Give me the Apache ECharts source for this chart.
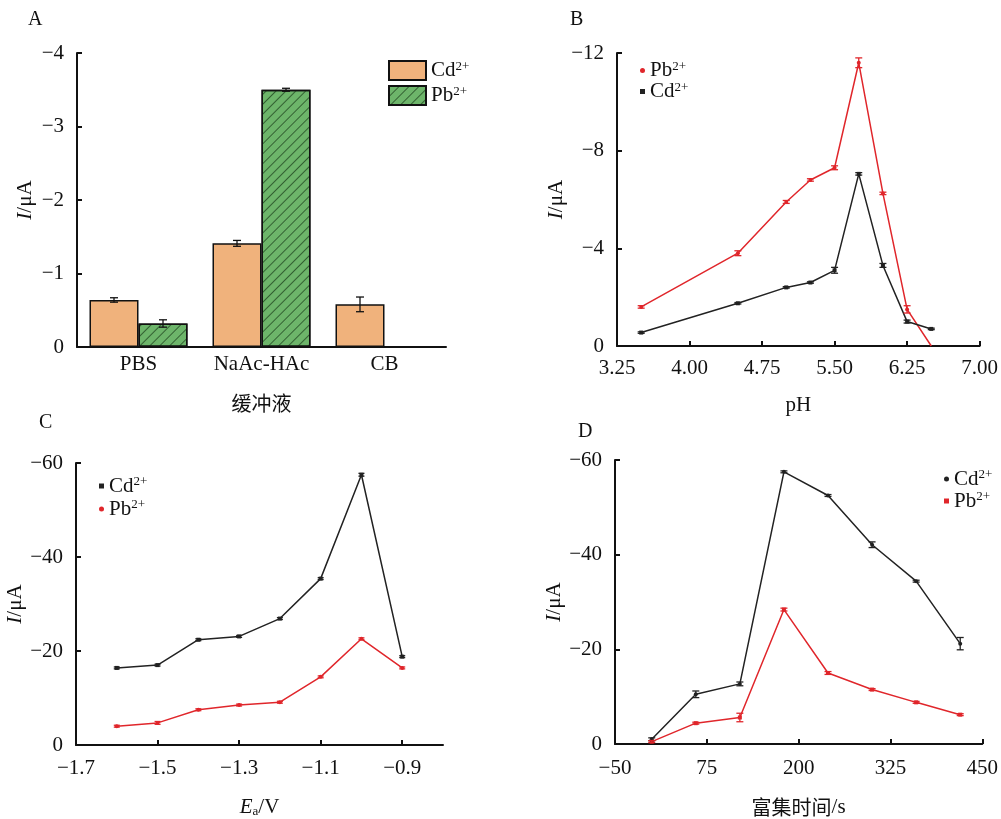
<!DOCTYPE html>
<html>
<head>
<meta charset="utf-8">
<script src="https://cdn.jsdelivr.net/npm/echarts@6/dist/echarts.min.js"></script>
<style>html,body{margin:0;padding:0;background:#fff}#c{width:1001px;height:819px}</style>
</head>
<body>
<div id="c"></div>
<script>
// ---------- Data ----------
// Panel A: buffer type
const bufferCats = ['PBS', 'NaAc-HAc', 'CB'];
const bufferCd = [-0.64, -1.41, -0.58];
const bufferCdErr = [0.03, 0.04, 0.10];
const bufferPb = [-0.32, -3.50, null];
const bufferPbErr = [0.05, 0.02, null];
const bufferTicks = [-4, -3, -2, -1, 0];

// Panel B: pH
const phValues = [3.5, 4.5, 5.0, 5.25, 5.5, 5.75, 6.0, 6.25, 6.5];
const phPb = [-1.6, -3.8, -5.9, -6.8, -7.3, -11.6, -6.25, -1.5, 0];
const phPbErr = [0.05, 0.1, 0.06, 0.05, 0.08, 0.2, 0.05, 0.15, 0];
const phCd = [-0.55, -1.75, -2.4, -2.6, -3.1, -7.05, -3.3, -1.0, -0.7];
const phCdErr = [0.03, 0.03, 0.03, 0.03, 0.12, 0.05, 0.08, 0.06, 0.03];
const phTicks = [3.25, 4.00, 4.75, 5.50, 6.25, 7.00];

// Panel C: deposition potential
const potentials = [-1.6, -1.5, -1.4, -1.3, -1.2, -1.1, -1.0, -0.9];
const potCd = [-16.4, -17.0, -22.4, -23.1, -26.9, -35.4, -57.5, -18.8];
const potCdErr = [0.2, 0.2, 0.2, 0.2, 0.2, 0.2, 0.3, 0.2];
const potPb = [-4.0, -4.7, -7.5, -8.5, -9.1, -14.5, -22.6, -16.4];
const potPbErr = [0.2, 0.3, 0.2, 0.2, 0.2, 0.2, 0.2, 0.2];

// Panel D: deposition time
const times = [0, 60, 120, 180, 240, 300, 360, 420];
const timeCd = [-1.0, -10.5, -12.7, -57.5, -52.5, -42.1, -34.4, -21.2];
const timeCdErr = [0.3, 0.7, 0.4, 0.2, 0.2, 0.6, 0.2, 1.3];
const timePb = [-0.5, -4.4, -5.6, -28.4, -15.0, -11.5, -8.8, -6.2];
const timePbErr = [0.2, 0.2, 0.9, 0.3, 0.3, 0.2, 0.2, 0.2];

// ---------- Styles ----------
const SERIF = '"Liberation Serif", "Times New Roman", serif';
const CJK = '"Noto Sans CJK SC", sans-serif';
const RED = '#E0262B';
const BLACK = '#222222';
const ORANGE = '#F0B27C';
const GREEN = '#6DB56A';
const FS = 21;

const negFmt = v => (v === 0 ? '0' : '\u2212' + Math.abs(v));
const richText = {
  a: { fontFamily: SERIF, fontSize: 21, color: '#111' },
  s: { fontFamily: SERIF, fontSize: 13, color: '#111', verticalAlign: 'top' }
};
const legendFmt = name => '{a|' + name.split('_')[0] + '}{s|2+}';
const yName = '{i|I}{n|/\u03bcA}';
const yNameRich = {
  i: { fontFamily: SERIF, fontSize: FS, fontStyle: 'italic', color: '#111' },
  n: { fontFamily: SERIF, fontSize: FS, color: '#111' }
};

function valueAxisY(grid, min, max, interval, gap) {
  return {
    type: 'value', gridIndex: grid, min: min, max: max, interval: interval, inverse: true,
    name: yName, nameLocation: 'middle', nameGap: gap,
    nameTextStyle: { rich: yNameRich },
    axisLine: { show: true, onZero: false, lineStyle: { color: '#111', width: 2 } },
    axisTick: { show: true, inside: true, length: 5, lineStyle: { color: '#111', width: 2 } },
    axisLabel: { formatter: negFmt, fontFamily: SERIF, fontSize: FS, color: '#111', margin: 13 },
    splitLine: { show: false }
  };
}

function errRender(color, dx, cap) {
  return function (params, api) {
    const x = api.value(0), y = api.value(1), e = api.value(2);
    if (!e) return null;
    const lo = api.coord([x, y - e]);
    const hi = api.coord([x, y + e]);
    const cx = lo[0] + dx;
    const st = { stroke: color, lineWidth: 1.3 };
    return {
      type: 'group',
      children: [
        { type: 'line', shape: { x1: cx, y1: lo[1], x2: cx, y2: hi[1] }, style: st },
        { type: 'line', shape: { x1: cx - cap, y1: lo[1], x2: cx + cap, y2: lo[1] }, style: st },
        { type: 'line', shape: { x1: cx - cap, y1: hi[1], x2: cx + cap, y2: hi[1] }, style: st }
      ]
    };
  };
}
function errData(xs, ys, es) {
  const out = [];
  for (let i = 0; i < xs.length; i++) {
    if (ys[i] !== null && es[i]) out.push([xs[i], ys[i], es[i]]);
  }
  return out;
}
function pairs(xs, ys) { return xs.map((x, i) => [x, ys[i]]); }

function lineSeries(name, xi, xs, ys, color, symbol) {
  return {
    name: name, type: 'line', xAxisIndex: xi, yAxisIndex: xi,
    data: pairs(xs, ys), symbol: symbol,
    symbolSize: v => (v[1] === 0 ? 0 : 4),
    lineStyle: { color: color, width: 1.5 }, itemStyle: { color: color },
    z: 2, animation: false
  };
}
function errSeries(xi, xs, ys, es, color, dx, cap) {
  return {
    type: 'custom', xAxisIndex: xi, yAxisIndex: xi,
    renderItem: errRender(color, dx, cap), data: errData(xs, ys, es), z: 4, animation: false,
    silent: true
  };
}

const BAR_W = 49;
const catIdx = bufferCats.map((c, i) => i);

const option = {
  animation: false,
  backgroundColor: '#fff',
  textStyle: { fontFamily: SERIF },
  grid: [
    { left: 77, top: 53, width: 369, height: 294 },
    { left: 617, top: 53, width: 366, height: 293 },
    { left: 76, top: 463, width: 367, height: 294 },
    { left: 615, top: 460, width: 368, height: 294 }
  ],
  xAxis: [
    {
      type: 'category', gridIndex: 0, data: bufferCats,
      name: '缓冲液', nameLocation: 'middle', nameGap: 46,
      nameTextStyle: { fontFamily: CJK, fontSize: 20, color: '#111' },
      axisLine: { lineStyle: { color: '#111', width: 2 } },
      axisTick: { show: false },
      axisLabel: { interval: 0, hideOverlap: false, fontFamily: SERIF, fontSize: FS, color: '#111', margin: 7 }
    },
    {
      type: 'value', gridIndex: 1, min: phTicks[0], max: phTicks[phTicks.length - 1], interval: 0.75,
      name: 'pH', nameLocation: 'middle', nameGap: 49,
      nameTextStyle: { fontFamily: SERIF, fontSize: FS, color: '#111' },
      axisLine: { onZero: false, lineStyle: { color: '#111', width: 2 } },
      axisTick: { inside: true, length: 5, lineStyle: { color: '#111', width: 2 } },
      axisLabel: { formatter: v => v.toFixed(2), fontFamily: SERIF, fontSize: FS, color: '#111', margin: 12 },
      splitLine: { show: false }
    },
    {
      type: 'value', gridIndex: 2, min: -1.7, max: -0.8, interval: 0.2,
      name: '{i|E}{sub|a}{n|/V}', nameLocation: 'middle', nameGap: 52,
      nameTextStyle: { rich: {
        i: { fontFamily: SERIF, fontSize: FS, fontStyle: 'italic', color: '#111' },
        sub: { fontFamily: SERIF, fontSize: 13, color: '#111', verticalAlign: 'bottom' },
        n: { fontFamily: SERIF, fontSize: FS, color: '#111' }
      } },
      axisLine: { onZero: false, lineStyle: { color: '#111', width: 2 } },
      axisTick: { inside: true, length: 5, lineStyle: { color: '#111', width: 2 } },
      axisLabel: { formatter: v => (v < 0 ? '\u2212' : '') + Math.abs(v).toFixed(1), showMaxLabel: false,
        fontFamily: SERIF, fontSize: FS, color: '#111', margin: 13 },
      splitLine: { show: false }
    },
    {
      type: 'value', gridIndex: 3, min: -50, max: 450, interval: 125,
      name: '{c|富集时间}{n|/s}', nameLocation: 'middle', nameGap: 53,
      nameTextStyle: { rich: {
        c: { fontFamily: CJK, fontSize: 20, color: '#111' },
        n: { fontFamily: SERIF, fontSize: FS, color: '#111' }
      } },
      axisLine: { onZero: false, lineStyle: { color: '#111', width: 2 } },
      axisTick: { inside: true, length: 5, lineStyle: { color: '#111', width: 2 } },
      axisLabel: { formatter: v => (v < 0 ? '\u2212' + Math.abs(v) : String(v)), fontFamily: SERIF, fontSize: FS, color: '#111', margin: 14 },
      splitLine: { show: false }
    }
  ],
  yAxis: [
    valueAxisY(0, bufferTicks[0], bufferTicks[bufferTicks.length - 1], 1, 41),
    valueAxisY(1, -12, 0, 4, 38),
    valueAxisY(2, -60, 0, 20, 43),
    valueAxisY(3, -60, 0, 20, 45)
  ],
  legend: [
    {
      left: 388, top: 60, padding: 0, orient: 'vertical', itemWidth: 37, itemHeight: 19, itemGap: 4,
      icon: 'rect',
      data: ['Cd_A', 'Pb_A'], formatter: legendFmt, textStyle: { rich: richText }, selectedMode: false
    },
    {
      left: 640, top: 60, padding: 0, orient: 'vertical', itemWidth: 5, itemHeight: 5, itemGap: 0,
      data: [{ name: 'Pb_B', icon: 'circle' }, { name: 'Cd_B', icon: 'rect' }],
      formatter: legendFmt, textStyle: { rich: richText, lineHeight: 21 }, selectedMode: false
    },
    {
      left: 99, top: 475, padding: 0, orient: 'vertical', itemWidth: 5, itemHeight: 5, itemGap: 1,
      data: [{ name: 'Cd_C', icon: 'rect' }, { name: 'Pb_C', icon: 'circle' }],
      formatter: legendFmt, textStyle: { rich: richText, lineHeight: 22 }, selectedMode: false
    },
    {
      left: 944, top: 468, padding: 0, orient: 'vertical', itemWidth: 5, itemHeight: 5, itemGap: 0,
      data: [{ name: 'Cd_D', icon: 'circle' }, { name: 'Pb_D', icon: 'rect' }],
      formatter: legendFmt, textStyle: { rich: richText, lineHeight: 22 }, selectedMode: false
    }
  ],
  graphic: [
    { type: 'text', left: 28, top: 10, style: { text: 'A', font: '20px ' + SERIF, fill: '#111' } },
    { type: 'text', left: 570, top: 10, style: { text: 'B', font: '20px ' + SERIF, fill: '#111' } },
    { type: 'text', left: 39, top: 413, style: { text: 'C', font: '20px ' + SERIF, fill: '#111' } },
    { type: 'text', left: 578, top: 422, style: { text: 'D', font: '20px ' + SERIF, fill: '#111' } }
  ],
  series: [
    {
      name: 'Cd_A', type: 'bar', xAxisIndex: 0, yAxisIndex: 0, data: bufferCd,
      barWidth: BAR_W, barGap: '0%',
      itemStyle: { color: ORANGE, borderColor: '#111', borderWidth: 1.5 }
    },
    {
      name: 'Pb_A', type: 'bar', xAxisIndex: 0, yAxisIndex: 0, data: bufferPb,
      barWidth: BAR_W, barGap: '0%',
      itemStyle: {
        color: GREEN, borderColor: '#111', borderWidth: 1.5,
        decal: { symbol: 'rect', symbolSize: 1, color: 'rgba(25,60,25,0.7)',
          dashArrayX: [[1, 0]], dashArrayY: [1, 6], rotation: -Math.PI / 4 }
      }
    },
    errSeries(0, catIdx, bufferCd, bufferCdErr, '#111', -BAR_W / 2, 4),
    errSeries(0, catIdx, bufferPb, bufferPbErr, '#111', BAR_W / 2, 4),

    lineSeries('Pb_B', 1, phValues, phPb, RED, 'circle'),
    lineSeries('Cd_B', 1, phValues, phCd, BLACK, 'rect'),
    errSeries(1, phValues, phPb, phPbErr, RED, 0, 3.5),
    errSeries(1, phValues, phCd, phCdErr, BLACK, 0, 3.5),

    lineSeries('Cd_C', 2, potentials, potCd, BLACK, 'rect'),
    lineSeries('Pb_C', 2, potentials, potPb, RED, 'circle'),
    errSeries(2, potentials, potCd, potCdErr, BLACK, 0, 3),
    errSeries(2, potentials, potPb, potPbErr, RED, 0, 3),

    lineSeries('Cd_D', 3, times, timeCd, BLACK, 'circle'),
    lineSeries('Pb_D', 3, times, timePb, RED, 'rect'),
    errSeries(3, times, timeCd, timeCdErr, BLACK, 0, 3.5),
    errSeries(3, times, timePb, timePbErr, RED, 0, 3.5)
  ]
};

const chart = echarts.init(document.getElementById('c'), null, { renderer: 'canvas' });
chart.setOption(option);
</script>
</body>
</html>
